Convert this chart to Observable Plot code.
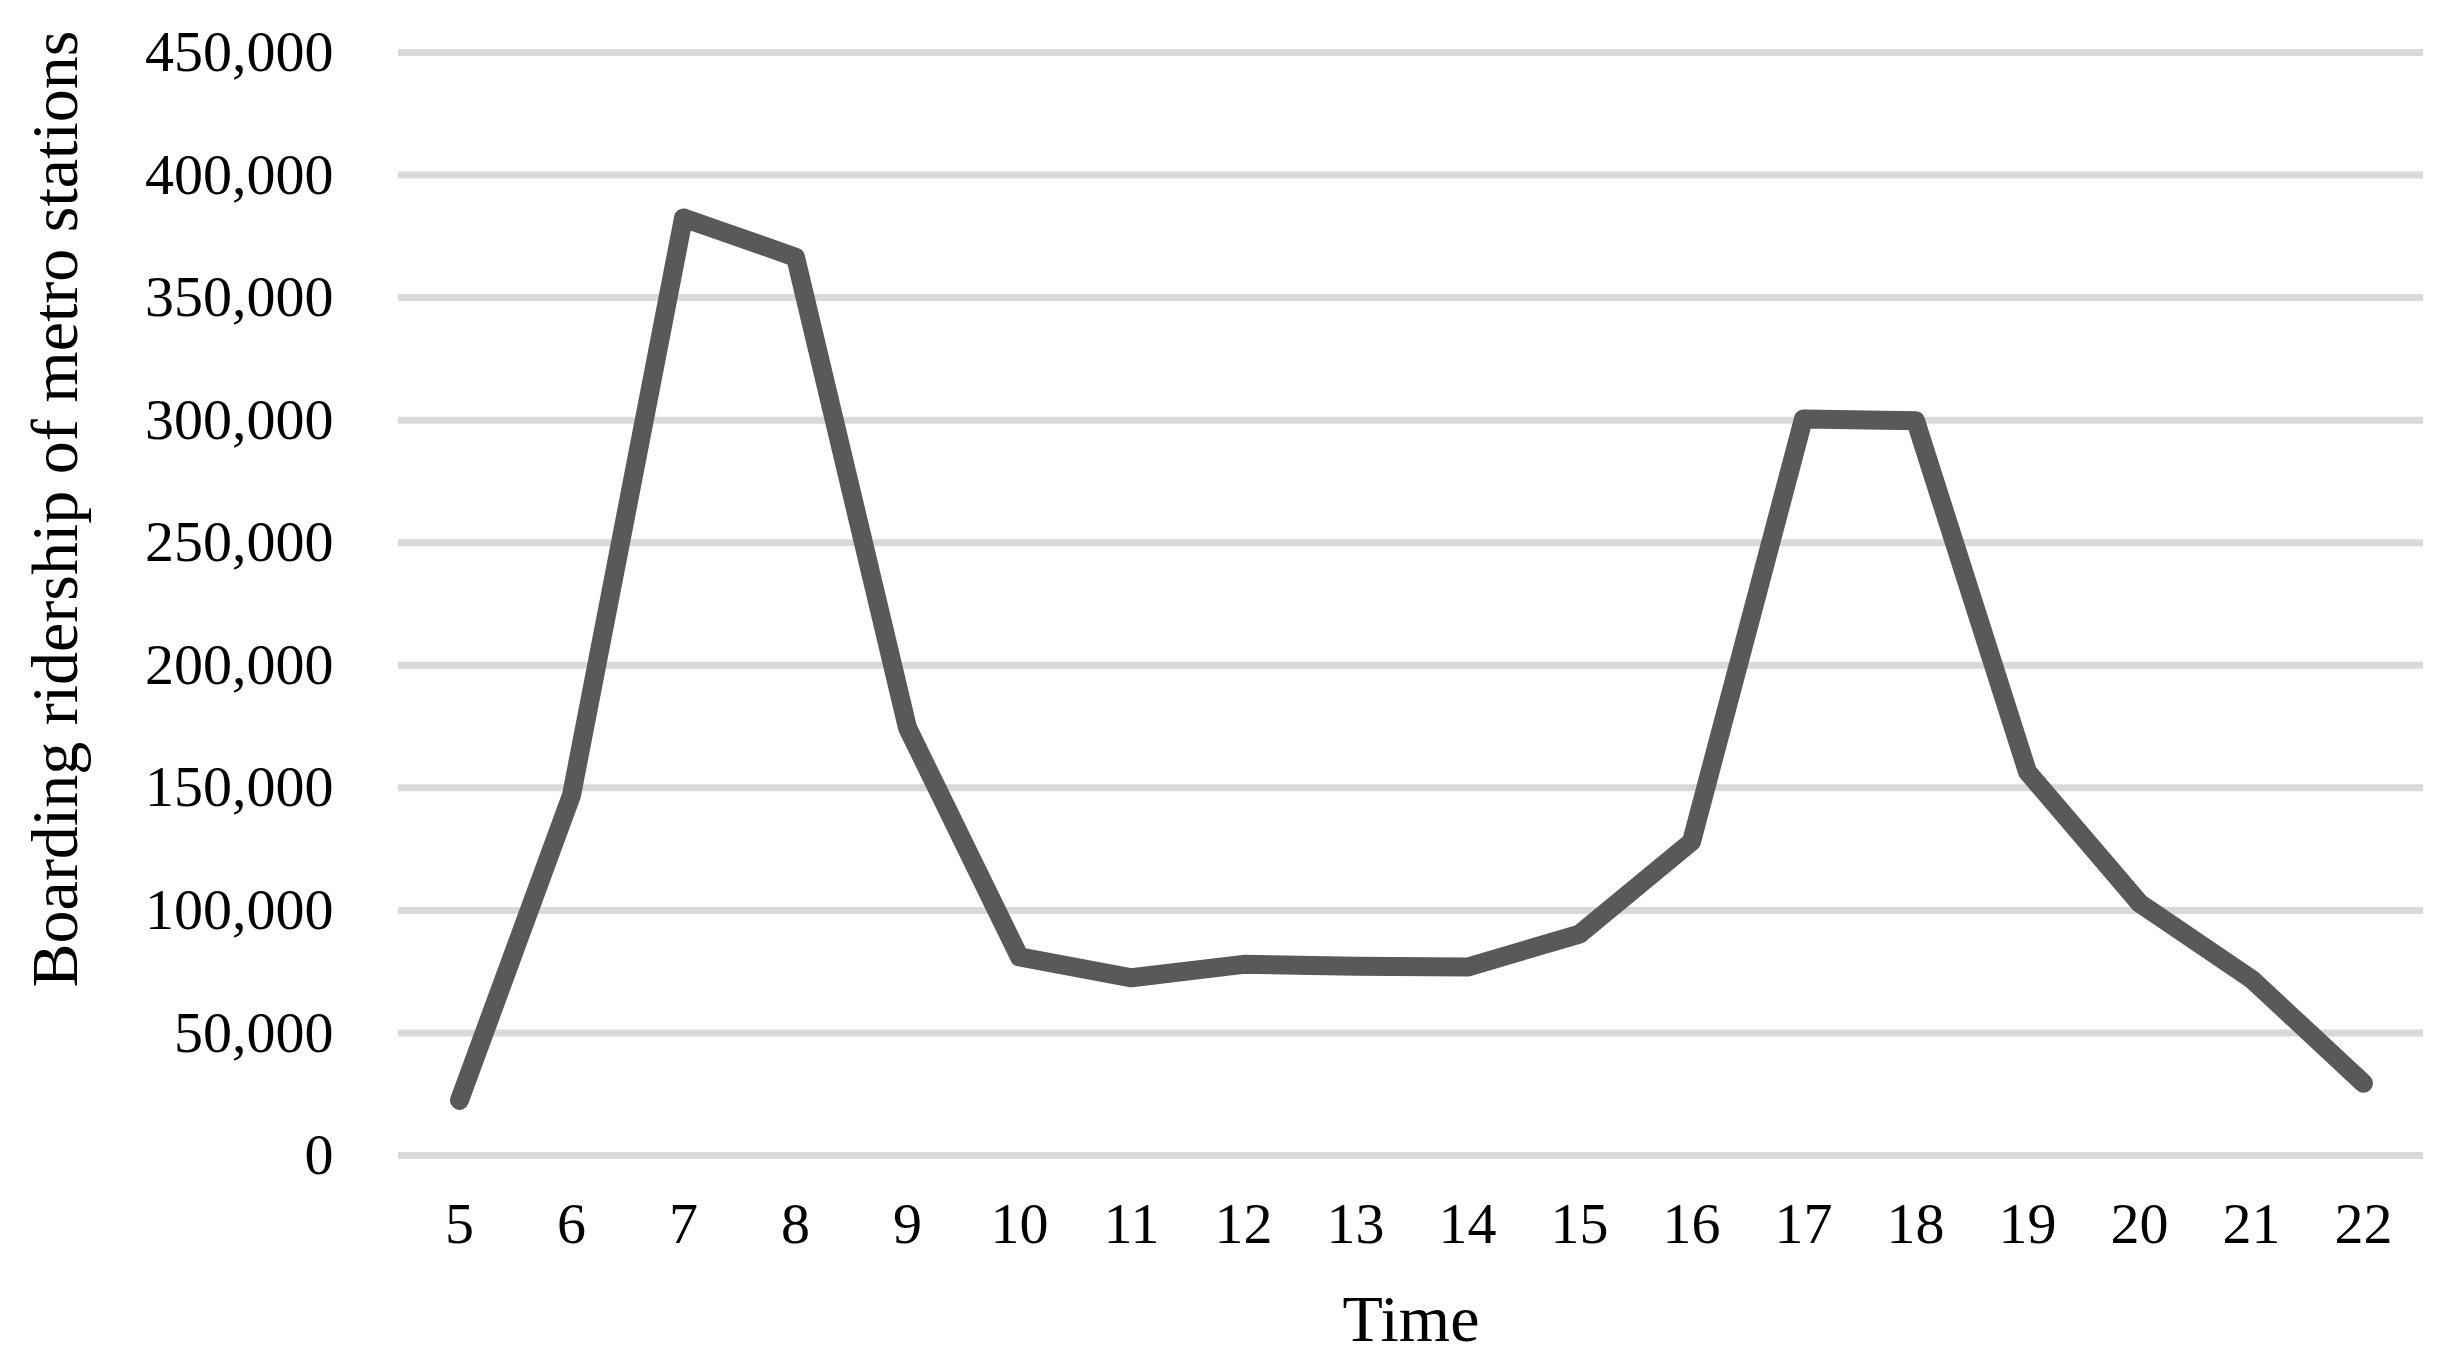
<!DOCTYPE html>
<html>
<head>
<meta charset="utf-8">
<script src="https://cdn.jsdelivr.net/npm/d3@7"></script>
<script src="https://cdn.jsdelivr.net/npm/@observablehq/plot@0.6"></script>
<style>
  html, body { margin: 0; padding: 0; background: #fff; }
  #chart svg { display: block; }
</style>
</head>
<body>
<div id="chart"></div>
<script>
const hours = [5, 6, 7, 8, 9, 10, 11, 12, 13, 14, 15, 16, 17, 18, 19, 20, 21, 22];
const ridership = [22500, 147000, 382500, 366500, 174500, 81000, 72500, 78000, 77200, 76900, 90300, 128000, 300500, 299800, 156500, 103000, 72000, 29500];
const yTicks = [0, 50000, 100000, 150000, 200000, 250000, 300000, 350000, 400000, 450000];
const xTitle = "Time";
const yTitle = "Boarding ridership of metro stations";

const data = hours.map((h, i) => ({hour: h, value: ridership[i]}));
const fmt = d3.format(",");

const chart = Plot.plot({
  width: 2451,
  height: 1367,
  marginLeft: 398,
  marginRight: 28,
  marginTop: 52,
  marginBottom: 212,
  style: {fontFamily: "'Liberation Serif', 'Times New Roman', serif", fontSize: "58px", color: "#000", background: "#fff"},
  x: {type: "point", domain: hours, padding: 0.49},
  y: {domain: [0, 450000]},
  marks: [
    Plot.gridY(yTicks, {stroke: "#d9d9d9", strokeOpacity: 1, strokeWidth: 7}),
    Plot.axisY(yTicks, {tickSize: 0, tickPadding: 65, tickFormat: fmt, fontSize: 58, label: null}),
    Plot.axisX(hours, {tickSize: 0, tickPadding: 46, fontSize: 58, label: null}),
    Plot.lineY(data, {x: "hour", y: "value", stroke: "#595959", strokeWidth: 19, strokeLinecap: "round", strokeLinejoin: "round"}),
    Plot.text([xTitle], {frameAnchor: "bottom", textAnchor: "middle", lineAnchor: "middle", dy: 164, fontSize: 66, fill: "#000", text: d => d}),
    Plot.text([yTitle], {frameAnchor: "left", textAnchor: "middle", lineAnchor: "middle", rotate: -90, dx: -343, dy: -95, fontSize: 66, fill: "#000", text: d => d})
  ]
});
document.getElementById("chart").appendChild(chart);
</script>
</body>
</html>
